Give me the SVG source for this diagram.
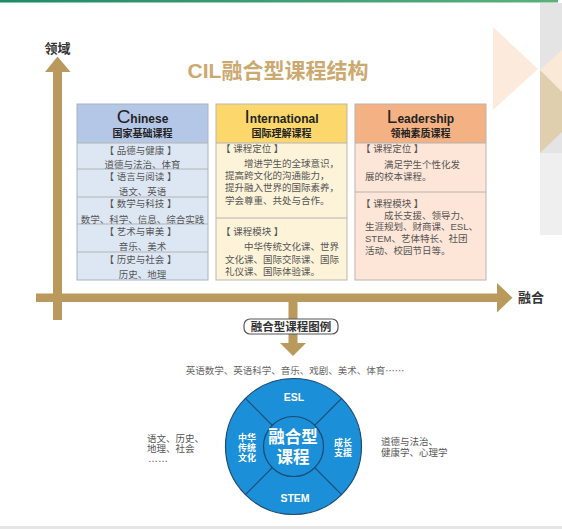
<svg xmlns="http://www.w3.org/2000/svg" width="562" height="529" viewBox="0 0 562 529">
<defs>
<linearGradient id="topbar" x1="0" y1="0" x2="1" y2="0">
<stop offset="0" stop-color="#1f8a68"/>
<stop offset="1" stop-color="#5db07e"/>
</linearGradient>
</defs>
<style>
text{font-family:"Liberation Sans","Noto Sans CJK SC",sans-serif}
.axis{fill:#b99a5c}
.ttl{font-size:21px;font-weight:bold;fill:#cba96f}
.axl{font-size:13px;font-weight:bold;fill:#333}
.big{font-size:19px;fill:#222}
.hd{font-size:12px;font-weight:bold;fill:#222}
.hz{font-size:10px;font-weight:bold;fill:#222}
.t{font-size:9.5px;fill:#555}
.el{font-family:"Noto Sans CJK SC",sans-serif}
.c{text-anchor:middle}
.sep{stroke:#b4b4b4;stroke-width:1}
.wt{fill:#fff;font-weight:bold;text-anchor:middle}
.div{stroke:#1c4a73;stroke-width:1.2}
</style>
<rect width="562" height="529" fill="#fff"/>
<rect x="0" y="0" width="558" height="2.5" fill="url(#topbar)"/>
<rect x="0" y="526" width="562" height="3" fill="#e6e6e6"/>
<g id="decoration">
<rect x="540" y="3" width="22" height="150" fill="#e4e4e4"/>
<rect x="540" y="153" width="22" height="82" fill="#efefef"/>
<polygon points="540,70 562,50 562,92" fill="#fbe9d8"/>
<polygon points="540,70 562,92 562,132 540,153" fill="#e0cfae"/>
<polygon points="493,27 538,69 493,110" fill="#fcebdc"/>
</g>
<text class="ttl c" x="278" y="78">CIL融合型课程结构</text>
<text class="axl c" x="57.5" y="53">领域</text>
<text class="axl" x="518" y="302">融合</text>
<g id="connectors">
<rect class="axis" x="53" y="70" width="9" height="250"/>
<polygon class="axis" points="57.5,56.5 45,72 70.5,72"/>
<rect class="axis" x="36" y="293.5" width="463" height="8.5"/>
<polygon class="axis" points="497,283 512.5,297.7 497,312.5"/>
<rect class="axis" x="288.5" y="302" width="9" height="17"/>
<rect class="axis" x="288.5" y="333" width="9" height="11"/>
<polygon class="axis" points="280,343 306,343 293,356"/>
</g>
<g id="chinese">
<rect x="77" y="104" width="131" height="39" fill="#b4c7e7"/>
<rect x="77" y="143" width="131" height="137" fill="#dde7f4"/>
<rect x="77" y="104" width="131" height="176" fill="none" stroke="#a7b3c3" stroke-width="1"/>
<line class="sep" x1="77" y1="143" x2="208" y2="143"/>
<line class="sep" x1="77" y1="169" x2="208" y2="169"/>
<line class="sep" x1="77" y1="197" x2="208" y2="197"/>
<line class="sep" x1="77" y1="224" x2="208" y2="224"/>
<line class="sep" x1="77" y1="252" x2="208" y2="252"/>
<text class="c" x="142.5" y="123"><tspan class="big">C</tspan><tspan class="hd">hinese</tspan></text>
<text class="hz c" x="142.5" y="137">国家基础课程</text>
<text class="t c" x="140.5" y="153.5">【 品德与健康 】</text>
<text class="t c" x="142.5" y="168">道德与法治、体育</text>
<text class="t c" x="140.5" y="179.5">【 语言与阅读 】</text>
<text class="t c" x="142.5" y="195">语文、英语</text>
<text class="t c" x="140.5" y="207">【 数学与科技 】</text>
<text class="t c" x="142.5" y="222.5">数学、科学、信息、综合实践</text>
<text class="t c" x="140.5" y="235">【 艺术与审美 】</text>
<text class="t c" x="142.5" y="250">音乐、美术</text>
<text class="t c" x="140.5" y="262.5">【 历史与社会 】</text>
<text class="t c" x="142.5" y="277.5">历史、地理</text>
</g>
<g id="international">
<rect x="216" y="104" width="131" height="39" fill="#fcd86c"/>
<rect x="216" y="143" width="131" height="137" fill="#fdf3d9"/>
<rect x="216" y="104" width="131" height="176" fill="none" stroke="#bcb7ad" stroke-width="1"/>
<line class="sep" x1="216" y1="143" x2="347" y2="143"/>
<line class="sep" x1="216" y1="218" x2="347" y2="218"/>
<text class="c" x="281.5" y="123"><tspan class="big">I</tspan><tspan class="hd">nternational</tspan></text>
<text class="hz c" x="281.5" y="137">国际理解课程</text>
<text class="t" x="221" y="152">【 课程定位 】</text>
<text class="t" x="244" y="167">增进学生的全球意识，</text>
<text class="t" x="225" y="179">提高跨文化的沟通能力，</text>
<text class="t" x="225" y="191">提升融入世界的国际素养，</text>
<text class="t" x="225" y="203.5">学会尊重、共处与合作。</text>
<text class="t" x="221" y="235">【 课程模块 】</text>
<text class="t" x="244" y="250">中华传统文化课、世界</text>
<text class="t" x="225" y="262.5">文化课、国际交际课、国际</text>
<text class="t" x="225" y="275">礼仪课、国际体验课。</text>
</g>
<g id="leadership">
<rect x="355" y="104" width="131" height="39" fill="#f4b183"/>
<rect x="355" y="143" width="131" height="137" fill="#fde5d7"/>
<rect x="355" y="104" width="131" height="176" fill="none" stroke="#bcb3ab" stroke-width="1"/>
<line class="sep" x1="355" y1="143" x2="486" y2="143"/>
<line class="sep" x1="355" y1="192" x2="486" y2="192"/>
<text class="c" x="420.5" y="123"><tspan class="big">L</tspan><tspan class="hd">eadership</tspan></text>
<text class="hz c" x="420.5" y="137">领袖素质课程</text>
<text class="t" x="361" y="152">【 课程定位 】</text>
<text class="t" x="384" y="168">满足学生个性化发</text>
<text class="t" x="365" y="179.5">展的校本课程。</text>
<text class="t" x="361" y="207">【 课程模块 】</text>
<text class="t" x="384" y="218.5">成长支援、领导力、</text>
<text class="t" x="365" y="230">生涯规划、财商课、ESL、</text>
<text class="t" x="365" y="241.5">STEM、艺体特长、社团</text>
<text class="t" x="365" y="253.5">活动、校园节日等。</text>
</g>
<g id="legend-label">
<rect x="244" y="319" width="94" height="15" rx="6" fill="#fff" stroke="#555" stroke-width="1.2"/>
<text class="c" x="291" y="330.5" style="font-size:11.5px;font-weight:bold;fill:#333">融合型课程图例</text>
</g>
<text class="t c" x="295" y="373.5" style="fill:#666">英语数学、英语科学、音乐、戏剧、美术、体育<tspan class="el">……</tspan></text>
<g id="wheel">
<circle cx="293.5" cy="446.5" r="68" fill="#1b8fd7" stroke="#1c4a73" stroke-width="1.2"/>
<line class="div" x1="272.3" y1="425.3" x2="245.4" y2="398.4"/>
<line class="div" x1="314.7" y1="425.3" x2="341.6" y2="398.4"/>
<line class="div" x1="272.3" y1="467.7" x2="245.4" y2="494.6"/>
<line class="div" x1="314.7" y1="467.7" x2="341.6" y2="494.6"/>
<circle cx="293.5" cy="446.5" r="30" fill="#1b8fd7" stroke="#1c4a73" stroke-width="1.2"/>
<text class="wt" x="294" y="401" style="font-size:10.5px">ESL</text>
<text class="wt" x="295" y="502" style="font-size:10.5px">STEM</text>
<text class="wt" x="247" y="440.5" style="font-size:9px">中华</text>
<text class="wt" x="247" y="450.5" style="font-size:9px">传统</text>
<text class="wt" x="247" y="460.5" style="font-size:9px">文化</text>
<text class="wt" x="343" y="445.5" style="font-size:9px">成长</text>
<text class="wt" x="343" y="455.5" style="font-size:9px">支援</text>
<text class="wt" x="293" y="443" style="font-size:16.5px">融合型</text>
<text class="wt" x="293" y="463" style="font-size:16.5px">课程</text>
</g>
<text class="t" x="147" y="441.5">语文、历史、</text>
<text class="t" x="147" y="451.5">地理、社会</text>
<text class="t" x="148" y="462" style="font-size:10px">……</text>
<text class="t" x="381" y="444.5">道德与法治、</text>
<text class="t" x="381" y="456">健康学、心理学</text>
</svg>
